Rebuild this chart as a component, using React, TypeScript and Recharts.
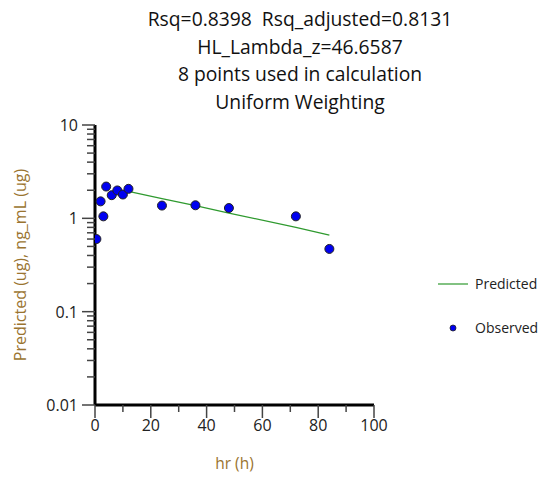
import {
  ComposedChart,
  Line,
  Scatter,
  XAxis,
  YAxis,
} from "recharts";

// ── Data ──────────────────────────────────────────────────────────────────────

const obsTimes = [0.5, 2, 3, 4, 6, 8, 10, 12, 24, 36, 48, 72, 84];
const obsValues = [0.6, 1.52, 1.05, 2.19, 1.77, 1.99, 1.8, 2.07, 1.37, 1.38, 1.29, 1.05, 0.47];

const predTimes = [12, 24, 36, 48, 72, 84];
const predValues = [1.95, 1.63, 1.37, 1.14, 0.8, 0.66];

const xTicks = [0, 10, 20, 30, 40, 50, 60, 70, 80, 90, 100];
const xLabelled = [0, 20, 40, 60, 80, 100];
const yTicks = [
  0.01, 0.02, 0.03, 0.04, 0.05, 0.06, 0.07, 0.08, 0.09,
  0.1, 0.2, 0.3, 0.4, 0.5, 0.6, 0.7, 0.8, 0.9,
  1, 2, 3, 4, 5, 6, 7, 8, 9, 10,
];
const yLabelled = [0.01, 0.1, 1, 10];

const titleLines = [
  "Rsq=0.8398\u00a0\u00a0Rsq_adjusted=0.8131",
  "HL_Lambda_z=46.6587",
  "8 points used in calculation",
  "Uniform Weighting",
];

const observed = obsTimes.map((t, i) => ({ t, v: obsValues[i] }));
const predicted = predTimes.map((t, i) => ({ t, p: predValues[i] }));

// ── Styles ────────────────────────────────────────────────────────────────────

const FONT = "'Open Sans', 'Noto Sans', sans-serif";
const LABEL_COLOR = "#9a7430";
const GREEN = "#2f9a2f";
const BLUE = "#0000f0";

// ── Ticks ─────────────────────────────────────────────────────────────────────

function XTick({ x, y, payload }: any) {
  const major = xLabelled.includes(payload.value);
  return (
    <g>
      <line x1={x} x2={x} y1={y} y2={y + (major ? 13 : 7)} stroke="#444" strokeWidth={1.5} />
      {major && (
        <text x={x} y={y + 26} textAnchor="middle" fontSize={16} fill="#222" fontFamily={FONT}>
          {payload.value}
        </text>
      )}
    </g>
  );
}

function YTick({ x, y, payload }: any) {
  const major = yLabelled.some((v) => Math.abs(v - payload.value) < 1e-9);
  return (
    <g>
      <line x1={x - (major ? 13 : 8)} x2={x} y1={y} y2={y} stroke="#444" strokeWidth={1.5} />
      {major && (
        <text x={x - 17} y={y + 6} textAnchor="end" fontSize={16} fill="#222" fontFamily={FONT}>
          {payload.value}
        </text>
      )}
    </g>
  );
}

function YLabel({ viewBox }: any) {
  const cx = viewBox.x + 22;
  const cy = viewBox.y + viewBox.height / 2;
  return (
    <text
      x={cx}
      y={cy}
      transform={`rotate(-90 ${cx} ${cy})`}
      textAnchor="middle"
      dominantBaseline="middle"
      fontSize={16}
      fill={LABEL_COLOR}
      fontFamily={FONT}
    >
      Predicted (ug), ng_mL (ug)
    </text>
  );
}

function XLabel({ viewBox }: any) {
  const cx = viewBox.x + viewBox.width / 2;
  return (
    <text x={cx} y={viewBox.y + 64} textAnchor="middle" fontSize={15.5} fill={LABEL_COLOR} fontFamily={FONT}>
      hr (h)
    </text>
  );
}

function Dot({ cx, cy }: any) {
  return <circle cx={cx} cy={cy} r={4.5} fill={BLUE} stroke="#222" strokeWidth={1} />;
}

function LegendBox() {
  return (
    <svg width={110} height={70} style={{ fontFamily: FONT, display: "block" }}>
      <line x1={8} x2={38} y1={14} y2={14} stroke={GREEN} strokeWidth={1.2} />
      <text x={45} y={19} fontSize={14} fill="#222">Predicted</text>
      <circle cx={23} cy={58} r={3} fill={BLUE} stroke="#222" strokeWidth={0.8} />
      <text x={45} y={63} fontSize={14} fill="#222">Observed</text>
    </svg>
  );
}

// ── Component ─────────────────────────────────────────────────────────────────

export default function App() {
  return (
    <div style={{ position: "absolute", left: 0, top: 0, width: 543, height: 477, background: "#fff", fontFamily: FONT }}>
      {/* Title block */}
      <div style={{ position: "absolute", left: 100, width: 400, top: 5, textAlign: "center", fontSize: 19.3, lineHeight: "27.5px", color: "#111" }}>
        {titleLines.map((l) => (
          <div key={l} style={{ whiteSpace: "nowrap" }}>{l}</div>
        ))}
      </div>

      {/* Legend */}
      <div style={{ position: "absolute", left: 430, top: 270 }}>
        <LegendBox />
      </div>

      <ComposedChart width={543} height={477} margin={{ top: 125, right: 169, bottom: 0, left: 0 }}>
        <XAxis
          dataKey="t"
          type="number"
          domain={[0, 100]}
          ticks={xTicks}
          interval={0}
          allowDataOverflow
          height={72}
          tickSize={0}
          tickMargin={0}
          tickLine={false}
          tick={<XTick />}
          axisLine={{ stroke: "#000", strokeWidth: 3 }}
          label={<XLabel />}
        />
        <YAxis
          type="number"
          scale="log"
          domain={[0.01, 10]}
          ticks={yTicks}
          interval={0}
          allowDataOverflow
          width={95}
          tickSize={0}
          tickMargin={0}
          tickLine={false}
          tick={<YTick />}
          axisLine={{ stroke: "#000", strokeWidth: 3 }}
          label={<YLabel />}
        />
        <Line
          data={predicted}
          dataKey="p"
          name="Predicted"
          stroke={GREEN}
          strokeWidth={1.3}
          dot={false}
          isAnimationActive={false}
        />
        <Scatter
          data={observed}
          dataKey="v"
          name="Observed"
          shape={<Dot />}
          isAnimationActive={false}
        />
      </ComposedChart>
    </div>
  );
}
